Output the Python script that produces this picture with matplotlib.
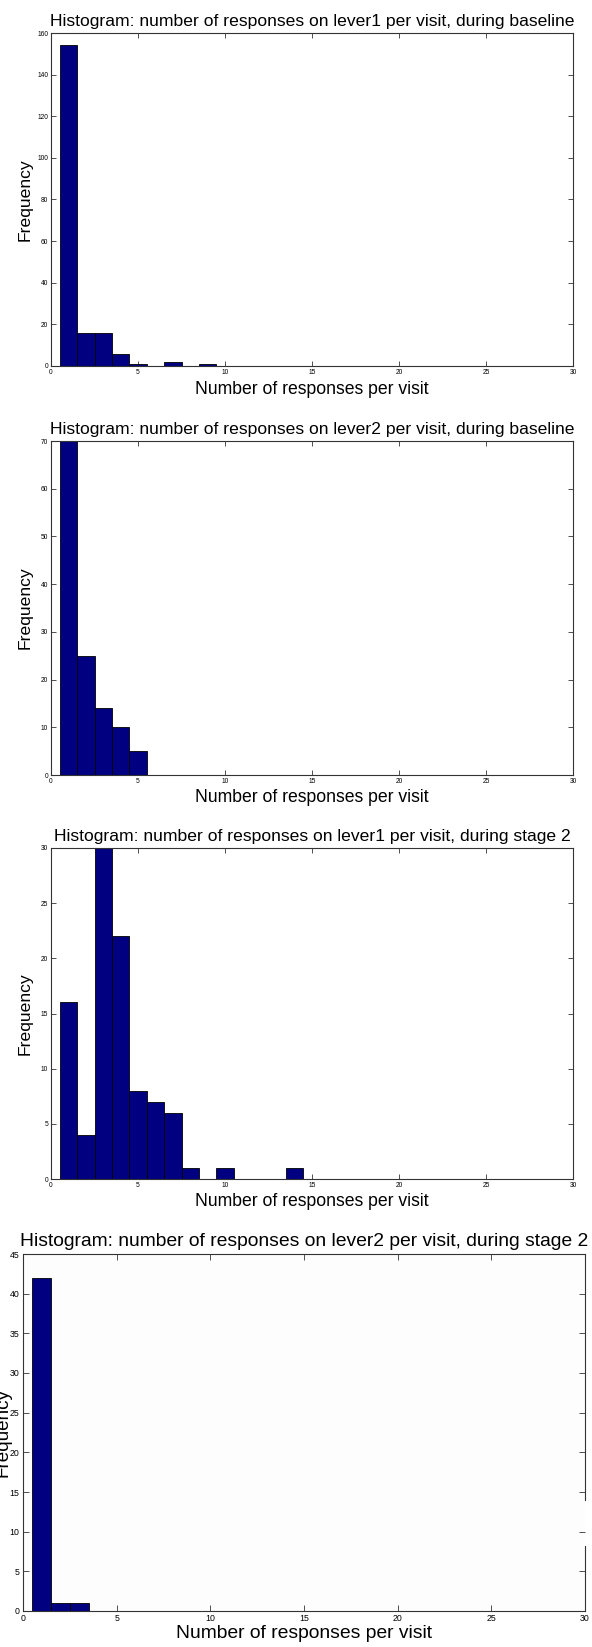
import matplotlib
matplotlib.use("Agg")
import matplotlib.pyplot as plt
import numpy as np

plt.rcParams["font.family"] = ["Liberation Sans", "DejaVu Sans"]

# Histogram counts per number-of-responses bin (bins centred on 1, 2, 3, ...)
lever1_baseline = [154, 16, 16, 6, 1, 0, 2, 0, 1]
lever2_baseline = [87, 25, 14, 10, 5]
lever1_stage2 = [16, 4, 30, 22, 8, 7, 6, 1, 0, 1, 0, 0, 0, 1]
lever2_stage2 = [42, 1, 1]

titles = [
    "Histogram: number of responses on lever1 per visit, during baseline",
    "Histogram: number of responses on lever2 per visit, during baseline",
    "Histogram: number of responses on lever1 per visit, during stage 2",
    "Histogram: number of responses on lever2 per visit, during stage 2",
]
series = [lever1_baseline, lever2_baseline, lever1_stage2, lever2_stage2]
y_max = [160, 70, 30, 45]
y_step = [20, 10, 5, 5]
x_ticks = [0, 5, 10, 15, 20, 25, 30]
x_label = "Number of responses per visit"
y_label = "Frequency"

W, H = 592, 1647
fig = plt.figure(figsize=(W / 100, H / 100), dpi=100)

# pixel boxes (left, right, top, bottom) for each panel
boxes = [
    (51, 573, 33, 366),
    (51, 573, 441, 775),
    (51, 573, 848, 1179),
    (23, 585, 1254, 1611),
]

navy = (0, 0, 0.5)

for i, (counts, title, ym, ys, box) in enumerate(zip(series, titles, y_max, y_step, boxes)):
    l, r, t, b = box
    big = i == 3
    ax = fig.add_axes([l / W, 1 - b / H, (r - l) / W, (b - t) / H])
    if big:
        ax.set_facecolor("#fdfdfd")
    centers = np.arange(1, len(counts) + 1)
    ax.bar(centers, counts, width=1.0, color=navy, edgecolor="black",
           linewidth=0.6, zorder=2)
    ax.set_xlim(0, 30)
    ax.set_ylim(0, ym)
    ax.set_xticks(x_ticks)
    ax.set_yticks(np.arange(0, ym + 1, ys))
    ax.tick_params(direction="in", top=True, right=True,
                   length=4.5 if big else 3.5, width=0.6, color="#333333",
                   labelsize=6.3 if big else 4.8, pad=2.5 if big else 2)
    for s in ax.spines.values():
        s.set_linewidth(0.8)
        s.set_color("#333333")
    ax.set_title(title, fontsize=13.9 if big else 12.6, pad=6 if big else 5)
    ax.set_xlabel(x_label, fontsize=13.9 if big else 12.7)
    ax.xaxis.label.set_va("center")
    ax.xaxis.set_label_coords(0.5, -(22 if big else 23) / (b - t))
    ax.set_ylabel(y_label, fontsize=13.6 if big else 12.6)
    ax.yaxis.label.set_va("center")
    ax.yaxis.set_label_coords(-((l - 3) if big else (l - 25)) / (r - l), 0.5)

    if big:
        # right frame edge is interrupted near the bottom of the panel
        ax.spines["right"].set_visible(False)
        y_gap_top = (b - 1500) / (b - t)
        y_gap_bot = (b - 1546) / (b - t)
        for y0, y1 in [(0, y_gap_bot), (y_gap_top, 1)]:
            ax.plot([1, 1], [y0, y1], transform=ax.transAxes, color="#333333",
                    linewidth=0.8, clip_on=False, zorder=3)

fig.savefig("out.png", dpi=100)
